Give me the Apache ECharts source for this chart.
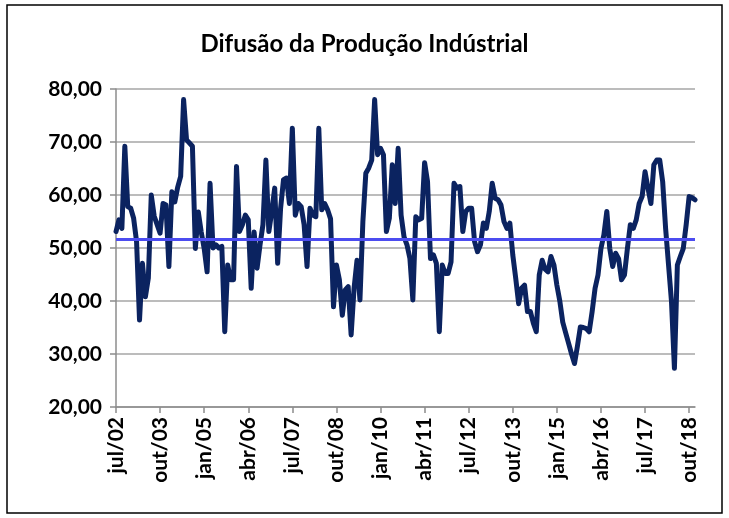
<!DOCTYPE html>
<html>
<head>
<meta charset="utf-8">
<script src="https://cdn.jsdelivr.net/npm/echarts@6/dist/echarts.min.js"></script>
<style>
html,body{margin:0;padding:0;background:#fff;}
#chart{width:729px;height:518px;}
</style>
</head>
<body>
<div id="chart"></div>
<script>
// Month names (Portuguese) used to build the category labels
var monthNames = ['jan','fev','mar','abr','mai','jun','jul','ago','set','out','nov','dez'];
var startYear = 2002, startMonth = 6; // jul/02

// Diffusion index values, monthly, jul/02 .. dez/18
var difusao = [
  53.1, 55.3, 53.7, 69.2, 57.8, 57.5, 55.6, 51.2, 36.4, 47.1,
  40.8, 44.3, 60.0, 56.0, 54.4, 52.8, 58.4, 58.1, 46.5, 60.6,
  58.7, 61.5, 63.5, 78.0, 70.4, 69.8, 69.2, 49.9, 56.8, 53.0,
  49.9, 45.5, 62.2, 50.0, 50.6, 50.0, 50.3, 34.2, 46.8, 44.0,
  44.0, 65.4, 53.1, 54.4, 56.2, 55.3, 42.4, 53.0, 46.2, 50.6,
  54.4, 66.6, 53.1, 56.9, 61.3, 47.1, 57.5, 62.9, 63.2, 58.4,
  72.6, 56.2, 58.4, 57.8, 54.4, 46.5, 57.5, 56.2, 55.9, 72.6,
  57.2, 58.4, 57.2, 55.5, 38.9, 46.8, 44.0, 37.3, 42.1, 42.7,
  33.6, 42.4, 47.7, 40.2, 55.0, 64.1, 65.1, 66.6, 78.0, 67.6,
  68.8, 67.6, 53.1, 55.6, 65.7, 58.4, 68.8, 56.2, 52.1, 50.6,
  48.0, 40.2, 55.9, 55.3, 55.6, 66.1, 62.5, 48.0, 48.7, 47.1,
  34.2, 46.8, 45.2, 45.2, 47.4, 62.2, 61.3, 61.6, 53.1, 56.9,
  57.5, 57.5, 51.2, 49.3, 50.6, 54.7, 53.7, 56.9, 62.2, 59.4,
  59.1, 58.1, 55.0, 53.7, 54.7, 48.7, 44.3, 39.5, 42.4, 43.0,
  38.0, 38.0, 35.8, 34.2, 44.9, 47.7, 46.0, 45.5, 48.4, 46.8,
  43.0, 40.0, 36.0, 34.0, 32.0, 30.0, 28.2, 31.5, 35.1, 35.0,
  34.8, 34.2, 38.0, 42.4, 44.9, 49.9, 52.5, 56.9, 49.9, 46.5,
  49.0, 48.0, 44.0, 44.9, 49.9, 54.4, 53.7, 55.3, 58.4, 59.7,
  64.4, 61.3, 58.4, 65.7, 66.6, 66.6, 62.5, 53.7, 46.8, 39.9,
  27.3, 46.8, 48.4, 49.9, 54.4, 59.7, 59.5, 59.1
];

// Reference (average) level drawn as horizontal line
var mediaValue = 51.7;

// Y axis ticks
var yMin = 20, yMax = 80, yStep = 10;

var categories = [];
for (var k = 0; k < difusao.length; k++) {
  var m = (startMonth + k) % 12;
  var y = startYear + Math.floor((startMonth + k) / 12);
  categories.push(monthNames[m] + '/' + String(y % 100).padStart(2, '0'));
}

var chart = echarts.init(document.getElementById('chart'), null, {renderer: 'canvas'});
chart.setOption({
  animation: false,
  backgroundColor: '#ffffff',
  title: {
    text: 'Difusão da Produção Indústrial',
    left: 'center',
    top: 27,
    textStyle: {fontFamily: 'Lato', fontWeight: 'bold', fontSize: 24, color: '#000'}
  },
  graphic: [{
    type: 'rect',
    shape: {x: 7, y: 5, width: 715, height: 508},
    style: {fill: 'none', stroke: '#000', lineWidth: 1.5},
    silent: true
  }],
  grid: {left: 116, right: 34, top: 89, bottom: 111, containLabel: false},
  xAxis: {
    type: 'category',
    data: categories,
    boundaryGap: false,
    axisLine: {lineStyle: {color: '#8c8c8c', width: 1.5}},
    axisTick: {show: true, interval: 14, length: 6, lineStyle: {color: '#8c8c8c', width: 1.5}},
    axisLabel: {
      interval: 14, rotate: 90, margin: 10,
      fontFamily: 'Lato', fontWeight: 'bold', fontSize: 21, color: '#000'
    },
    splitLine: {show: false}
  },
  yAxis: {
    type: 'value',
    min: yMin, max: yMax, interval: yStep,
    axisLine: {show: true, lineStyle: {color: '#8c8c8c', width: 1.5}},
    axisTick: {show: true, length: 6, lineStyle: {color: '#8c8c8c', width: 1.5}},
    axisLabel: {
      margin: 14,
      fontFamily: 'Lato', fontWeight: 'bold', fontSize: 21, color: '#000',
      formatter: function (v) { return v.toFixed(2).replace('.', ','); }
    },
    splitLine: {show: true, lineStyle: {color: '#a6a6a6', width: 1.5}}
  },
  series: [{
    type: 'line',
    data: difusao,
    symbol: 'none',
    smooth: false,
    lineStyle: {color: '#0b2360', width: 5, join: 'round', cap: 'round'},
    z: 3,
    markLine: {
      silent: true,
      symbol: 'none',
      label: {show: false},
      lineStyle: {color: '#4c4cf0', width: 3, type: 'solid'},
      data: [{yAxis: mediaValue}],
      z: 4
    }
  }]
});
</script>
</body>
</html>
